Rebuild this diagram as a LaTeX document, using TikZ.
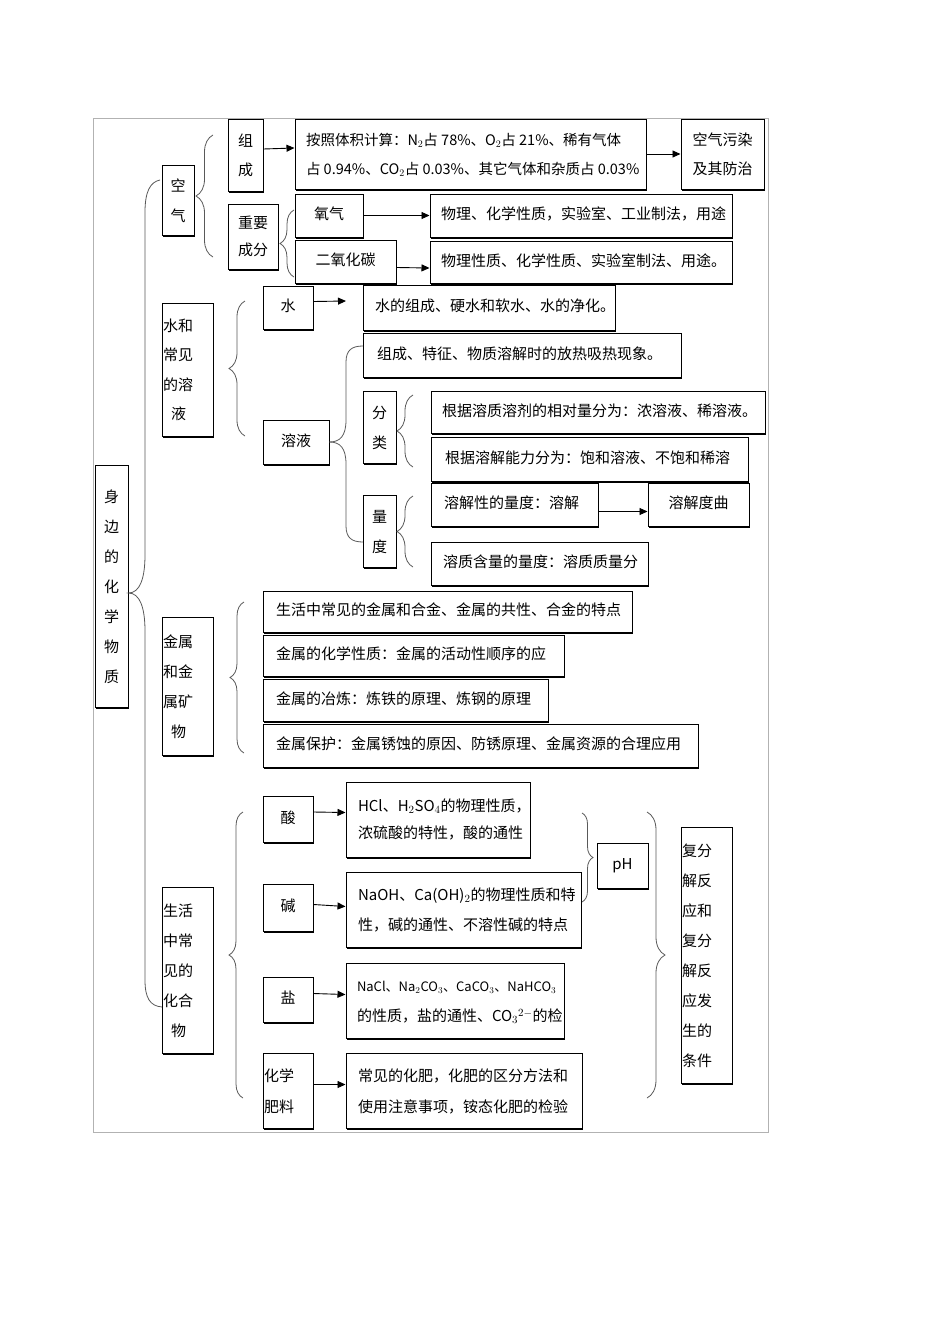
\documentclass[tikz,border=0pt]{standalone}
\usepackage{fontspec}
\setmainfont{Noto Sans CJK SC}
\usetikzlibrary{arrows.meta,shadows,decorations.pathreplacing,calc}
\tikzset{
  box/.style={draw=black, line width=1pt, fill=white, inner sep=0pt,
    preaction={fill=black, transform canvas={xshift=1.3pt, yshift=-1.6pt}}},
  arr/.style={line width=0.9pt, -{Triangle[length=8pt,width=7pt]}},
  brc/.style={draw=black!65, line width=0.8pt},
  lbrace/.style={brc, decorate, decoration={brace, amplitude=#1}},
}
% name, x1, y1, x2, y2, inset, skip, text  (left aligned)
\newcommand\Lbox[8]{\node[box,minimum width={(#4-#2)*1pt},minimum height={(#5-#3)*1pt}] (#1) at ({(#2+#4)/2},{(#3+#5)/2}) {\fontsize{15pt}{#7pt}\selectfont\makebox[\dimexpr#4pt-#2pt\relax][l]{\hspace*{#6pt}\begin{tabular}{@{}l@{}}#8\end{tabular}}};}
% name, x1, y1, x2, y2, skip, text  (centered)
\newcommand\Cbox[7]{\node[box,minimum width={(#4-#2)*1pt},minimum height={(#5-#3)*1pt}] (#1) at ({(#2+#4)/2},{(#3+#5)/2}) {\fontsize{15pt}{#6pt}\selectfont\begin{tabular}{@{}c@{}}#7\end{tabular}};}
\begin{document}
\begin{tikzpicture}[x=1pt,y=-1pt]
\useasboundingbox (0,0) rectangle (950,1344);
\draw[black!30, line width=0.8pt] (93,118) rectangle (768,1132);

% root
\Cbox{body}{95}{465}{128}{707}{30}{身\\边\\的\\化\\学\\物\\质}
\draw[brc] (160,180) .. controls (150,182) and (145,192) .. (145,212) -- (145,555) .. controls (145,578) and (140,593) .. (body.east |- 0,593) .. controls (140,593) and (145,608) .. (145,631) -- (145,980) .. controls (145,998) and (150,1006) .. (162,1007);

% ===== air
\Cbox{kongqi}{162}{165}{194}{235}{30}{空\\气}
\draw[lbrace=17pt] (213,257) -- (213,135);
\Cbox{zucheng}{228}{119}{263}{191}{29}{组\\成}
\Lbox{bigbox}{295}{119}{646}{189}{11}{29}{\fontsize{14.5pt}{29pt}\selectfont 按照体积计算：N$_2$占 78\%、O$_2$占 21\%、稀有气体\\\fontsize{14.5pt}{29pt}\selectfont 占 0.94\%、CO$_2$占 0.03\%、其它气体和杂质占 0.03\%}
\Cbox{wuran}{681}{119}{764}{189}{29}{空气污染\\及其防治}
\draw[arr] ($(zucheng.east)+(0,-6)$) -- ($(bigbox.west)+(0,-6)$);
\draw[arr] (bigbox) -- (wuran);

\Cbox{zhongyao}{228}{204}{278}{269}{27}{重要\\成分}
\draw[lbrace=14pt] (294,277) -- (294,210);
\Cbox{yangqi}{295}{194}{363}{237}{20}{氧气}
\Lbox{o2info}{430}{194}{732}{237}{11}{20}{物理、化学性质，实验室、工业制法，用途}
\Cbox{co2}{295}{240}{396}{283}{20}{二氧化碳}
\Lbox{co2info}{430}{241}{732}{283}{11}{20}{物理性质、化学性质、实验室制法、用途。}
\draw[arr] (yangqi) -- (o2info);
\draw[arr] ($(co2.east)+(0,6)$) -- ($(co2info.west)+(0,6)$);

% ===== water
\Lbox{water}{162}{303}{213}{436}{1}{29.5}{水和\\常见\\的溶\\\hspace*{8pt}液}
\draw[lbrace=16pt] (245,436) -- (245,301);
\Cbox{shui}{263}{286}{313}{329}{20}{水}
\coordinate (shuiend) at (346,301);
\draw[arr] ($(shui.east)+(0,-6)$) -- (shuiend);
\Lbox{shuiinfo}{363}{285}{615}{330}{12}{20}{水的组成、硬水和软水、水的净化。}
\Lbox{zucheng2}{363}{333}{681}{377}{14}{20}{组成、特征、物质溶解时的放热吸热现象。}
\Cbox{rongye}{263}{420}{329}{464}{20}{溶液}
\draw[brc] (rongye.east) .. controls (340,442) and (346,436) .. (346,420) -- (346,362) .. controls (346,350) and (352,346) .. (363,346);
\draw[brc] (rongye.east) .. controls (340,442) and (346,448) .. (346,464) -- (346,526) .. controls (346,538) and (352,542) .. (363,542);
\Cbox{fenlei}{363}{391}{396}{463}{30}{分\\类}
\draw[lbrace=16pt] (413,467) -- (413,395);
\Lbox{fl1}{431}{391}{765}{433}{11}{20}{根据溶质溶剂的相对量分为：浓溶液、稀溶液。}
\Lbox{fl2}{431}{437}{748}{481}{14}{20}{根据溶解能力分为：饱和溶液、不饱和稀溶}
\Cbox{liangdu}{363}{495}{396}{567}{30}{量\\度}
\draw[lbrace=16pt] (413,567) -- (413,496);
\Lbox{ld1}{431}{483}{598}{526}{13}{20}{溶解性的量度：溶解}
\Cbox{ld2}{648}{483}{749}{526}{20}{溶解度曲}
\draw[arr] ($(ld1.east)+(0,7)$) -- ($(ld2.west)+(0,7)$);
\Lbox{ld3}{431}{542}{648}{585}{12}{20}{溶质含量的量度：溶质质量分}

% ===== metals
\Lbox{metal}{162}{617}{213}{755}{1}{30}{金属\\和金\\属矿\\\hspace*{8pt}物}
\draw[lbrace=14pt] (244,753) -- (244,602);
\Lbox{m1}{263}{591}{632}{632}{13}{20}{生活中常见的金属和合金、金属的共性、合金的特点}
\Lbox{m2}{263}{635}{564}{676}{13}{20}{金属的化学性质：金属的活动性顺序的应}
\Lbox{m3}{263}{679}{548}{721}{13}{20}{金属的冶炼：炼铁的原理、炼钢的原理}
\Lbox{m4}{263}{724}{698}{767}{13}{20}{金属保护：金属锈蚀的原因、防锈原理、金属资源的合理应用}

% ===== compounds
\Lbox{comp}{162}{887}{213}{1053}{1}{30}{生活\\中常\\见的\\化合\\\hspace*{8pt}物}
\draw[lbrace=14pt] (243,1098) -- (243,812);
\Cbox{suan}{263}{796}{313}{842}{20}{酸}
\Lbox{suaninfo}{346}{782}{530}{857}{12}{27}{HCl、H$_2$SO$_4$的物理性质，\\浓硫酸的特性，酸的通性}
\draw[arr] ($(suan.east)+(0,-7)$) -- ($(suaninfo.west)+(0,-7)$);
\Cbox{jian}{263}{884}{313}{931}{20}{碱}
\Lbox{jianinfo}{346}{872}{581}{947}{12}{30}{NaOH、Ca(OH)$_2$的物理性质和特\\性，碱的通性、不溶性碱的特点}
\draw[arr] ($(jian.east)+(0,-3)$) -- ($(jianinfo.west)+(0,-3)$);
\Cbox{yan}{263}{977}{313}{1022}{20}{盐}
\Lbox{yaninfo}{346}{963}{564}{1038}{11}{30}{\fontsize{13pt}{30pt}\selectfont NaCl、Na$_2$CO$_3$、CaCO$_3$、NaHCO$_3$\\的性质，盐的通性、CO$_3$$^{2-}$的检}
\draw[arr] ($(yan.east)+(0,-6)$) -- ($(yaninfo.west)+(0,-6)$);
\Lbox{feiliao}{263}{1053}{313}{1128}{1}{31}{化学\\肥料}
\Lbox{feiinfo}{346}{1053}{582}{1128}{12}{31}{常见的化肥，化肥的区分方法和\\使用注意事项，铵态化肥的检验}
\draw[arr] ($(feiliao.east)+(0,-6)$) -- ($(feiinfo.west)+(0,-6)$);

\draw[lbrace=11pt] (582,813) -- (582,902);
\Cbox{ph}{597}{843}{648}{888}{20}{pH}
\draw[lbrace=18pt] (647,812) -- (647,1098);
\Lbox{fufen}{681}{827}{732}{1083}{1}{30}{复分\\解反\\应和\\复分\\解反\\应发\\生的\\条件}
\end{tikzpicture}
\end{document}
